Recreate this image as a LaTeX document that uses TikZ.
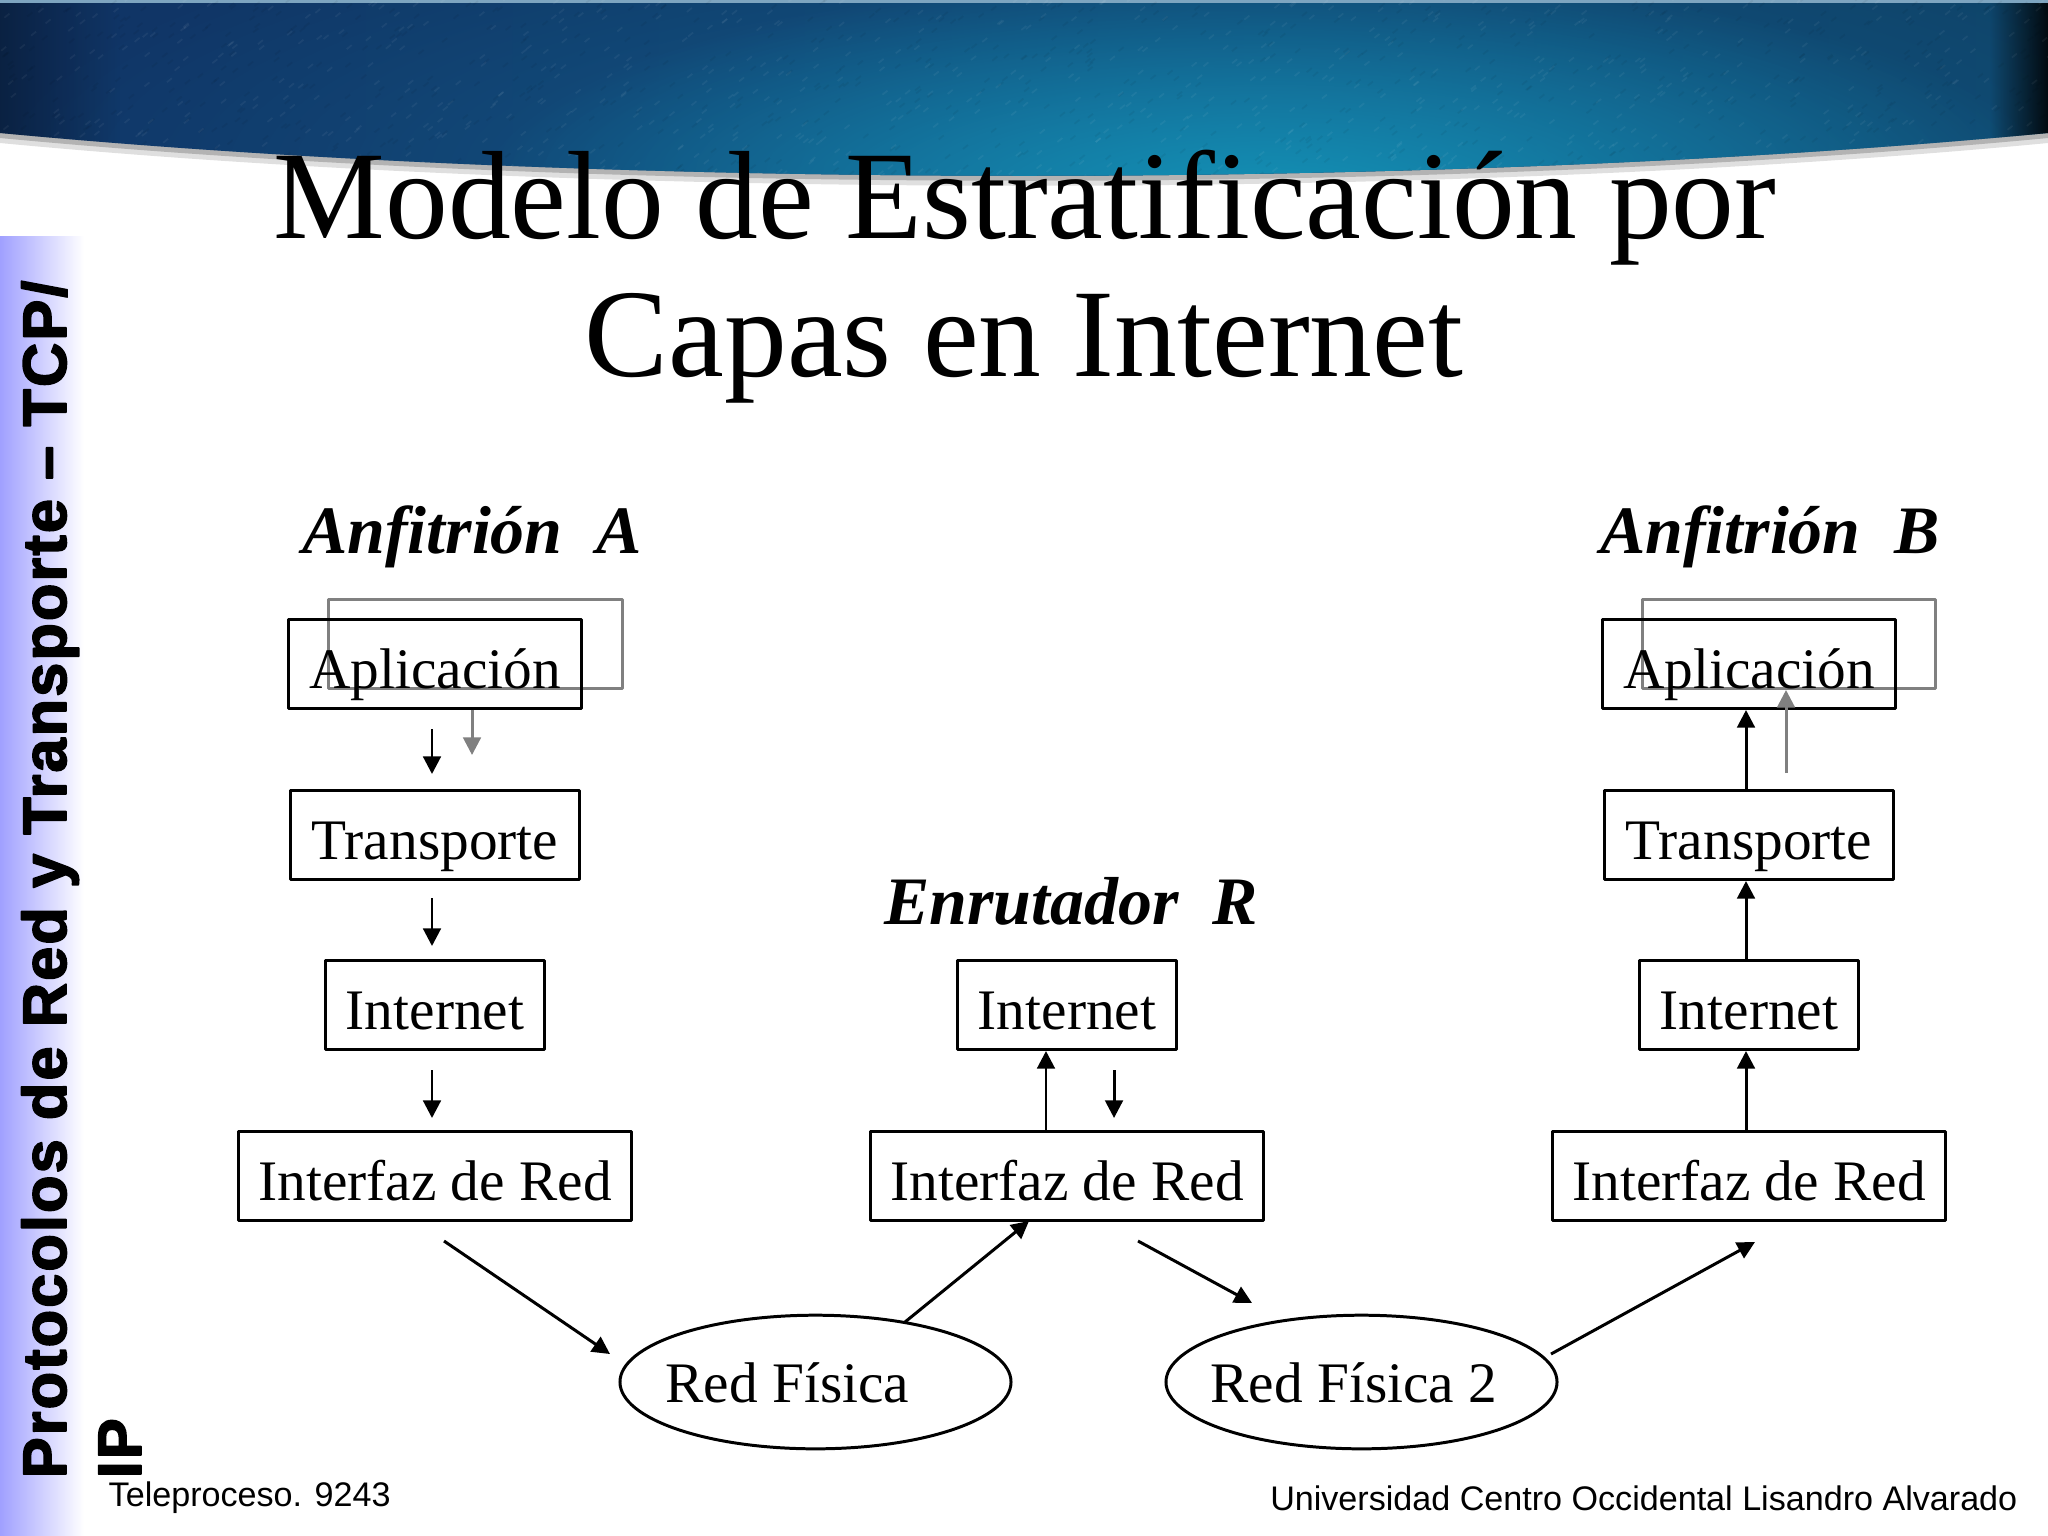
\documentclass[tikz,border=0pt]{standalone}
\usepackage{fontspec}
\setmainfont{Liberation Serif}[Ligatures=NoCommon]
\newfontfamily\lateral{Liberation Sans}[LetterSpace=3.2,BoldFeatures={FakeBold=2.5}]
\newfontfamily\pie{Liberation Sans}
\usetikzlibrary{arrows.meta,shapes.geometric,fadings}
\definecolor{azuloscuro}{RGB}{16,52,102}
\definecolor{azulderecho}{RGB}{14,66,102}
\definecolor{azulmedio}{RGB}{20,92,140}
\definecolor{turquesa}{RGB}{20,146,182}
\definecolor{lila}{RGB}{160,160,255}
\definecolor{gris}{RGB}{128,128,128}
\tikzfading[name=brillo,inner color=transparent!0,outer color=transparent!100]
\tikzfading[name=haciaderecha,left color=transparent!100,right color=transparent!0]
\tikzfading[name=haciaizquierda,left color=transparent!0,right color=transparent!100]
\tikzset{
	caja/.style={draw,line width=0.85pt,inner sep=0pt,minimum height=25.3pt,text height=16pt,text depth=1.8pt,font=\fontsize{16.3}{20}\selectfont},
	fantasma/.style={draw=gris,line width=0.85pt,inner sep=0pt,minimum width=83.4pt,minimum height=25.3pt},
	nube/.style={draw,line width=0.85pt,ellipse,inner sep=0pt,minimum width=111.2pt,minimum height=38pt},
	rotulo/.style={anchor=base,inner sep=0pt,font=\fontsize{16.3}{20}\selectfont},
	titulo/.style={anchor=base,inner sep=0pt,font=\fontsize{35.7}{40}\selectfont},
	cabecera/.style={anchor=base,inner sep=0pt,font=\fontsize{19.3}{23}\selectfont\bfseries\itshape},
	flecha/.style={-{Triangle[length=5pt,width=5pt]},line width=0.85pt},
	grisflecha/.style={flecha,draw=gris,-{Triangle[length=5pt,width=5pt,fill=gris]}}
}
\begin{document}
\begin{tikzpicture}[x=0.01cm,y=-0.01cm,line join=round]
	\def\borde{(0,133) .. controls (600,190) and (1450,190) .. (2048,133)}
	\useasboundingbox (0,0) rectangle (2048,1536);
	% banda superior
	\fill[gris!25] (0,0) -- (0,143) .. controls (600,200) and (1450,200) .. (2048,143) -- (2048,0) -- cycle;
	\fill[gris!60] (0,0) -- (0,138) .. controls (600,195) and (1450,195) .. (2048,138) -- (2048,0) -- cycle;
	\begin{scope}
		\clip (0,0) -- \borde -- (2048,0) -- cycle;
		\shade[left color=azuloscuro,right color=azulderecho] (0,0) rectangle (2048,200);
		\fill[azulmedio,path fading=brillo] (1180,170) ellipse (1200 and 300);
		\fill[turquesa,path fading=brillo] (1270,200) ellipse (800 and 230);
		\fill[black,opacity=0.35,path fading=haciaizquierda] (0,0) rectangle (120,200);
		\fill[black,opacity=0.85,path fading=haciaderecha] (1990,0) rectangle (2048,200);
		\fill[azulmedio!55!white] (0,0) rectangle (2048,3);
		% textura
		\pgfmathsetseed{9243}
		\foreach \i in {1,...,1500}{
			\pgfmathsetmacro{\px}{rnd*2048}
			\pgfmathsetmacro{\py}{rnd*185}
			\pgfmathsetmacro{\tono}{rnd<0.5 ? "white" : "black"}
			\draw[\tono,opacity=0.05,line width=0.5pt] (\px,\py) -- ++(5,-4);
		}
	\end{scope}
	% barra lateral
	\shade[left color=lila,right color=white] (0,236) rectangle (84,1536);
	\node[rotate=90,anchor=base west,inner sep=0pt] (lat1) at (66,1479) {\fontsize{17.5}{21}\selectfont\lateral\bfseries Protocolos de Red y Transporte – TCP/};
	\node[rotate=90,anchor=base west,inner sep=0pt] (lat2) at (141,1479) {\fontsize{17.5}{21}\selectfont\lateral\bfseries IP};
	\node[anchor=base west,inner sep=0pt] (pie1) at (108,1506) {\fontsize{9.7}{11}\selectfont\pie Teleproceso. 9243};
	\node[anchor=base east,inner sep=0pt] (pie2) at (2018,1510) {\fontsize{9.7}{11}\selectfont\pie Universidad Centro Occidental Lisandro Alvarado};
	% titulos
	\node[titulo] (tit1) at (1025,238) {Modelo de Estratificación por};
	\node[titulo] (tit2) at (1024,376) {Capas en Internet};
	\node[cabecera] (anfa) at (472,553) {Anfitrión\ \ A};
	\node[cabecera] (enr) at (1071,924) {Enrutador\ \ R};
	\node[cabecera] (anfb) at (1770,553) {Anfitrión\ \ B};
	% capas
	\node[fantasma] (fa) at (475.5,644) {};
	\node[fantasma] (fb) at (1789,644) {};
	\foreach \col/\x in {a/435,b/1749}{
		\node[caja,minimum width=83.4pt] (ap\col) at (\x,664) {Aplicación};
		\node[caja,minimum width=82.2pt] (tr\col) at (\x,835) {Transporte};
		\node[caja,minimum width=62.3pt] (in\col) at (\x,1005) {Internet};
		\node[caja,minimum width=111.8pt] (if\col) at (\x,1176) {Interfaz de Red};
	}
	\node[caja,minimum width=62.3pt] (inr) at (1067,1005) {Internet};
	\node[caja,minimum width=111.8pt] (ifr) at (1067,1176) {Interfaz de Red};
	\node[nube] (rf) at (815.5,1382) {};
	\node[nube] (rfd) at (1361.5,1382) {};
	\node[rotulo] (trf) at (787.5,1402) {Red Física};
	\node[rotulo] (trfd) at (1354,1402) {Red Física 2};
	% flechas
	\draw[flecha,shorten <=0.19cm,shorten >=0.15cm] ([xshift=-0.03cm]apa.south) -- ([xshift=-0.03cm]tra.north);
	\draw[flecha,shorten <=0.17cm,shorten >=0.13cm] ([xshift=-0.03cm]tra.south) -- ([xshift=-0.03cm]ina.north);
	\draw[flecha,shorten <=0.19cm,shorten >=0.12cm] ([xshift=-0.03cm]ina.south) -- ([xshift=-0.03cm]ifa.north);
	\draw[grisflecha,shorten >=0.34cm] ([xshift=0.37cm]apa.south) -- ([xshift=0.37cm]tra.north);
	\draw[flecha] ([xshift=-0.21cm]ifr.north) -- ([xshift=-0.21cm]inr.south);
	\draw[flecha,shorten <=0.19cm,shorten >=0.12cm] ([xshift=0.47cm]inr.south) -- ([xshift=0.47cm]ifr.north);
	\draw[flecha] ([xshift=-0.03cm]trb.north) -- ([xshift=-0.03cm]apb.south);
	\draw[flecha] ([xshift=-0.03cm]inb.north) -- ([xshift=-0.03cm]trb.south);
	\draw[flecha] ([xshift=-0.03cm]ifb.north) -- ([xshift=-0.03cm]inb.south);
	\coordinate (fg) at (1786,773);
	\draw[grisflecha] (fg) -- (fg |- fb.south);
	\coordinate (d1) at (444,1241);
	\coordinate (d2) at (610,1354);
	\coordinate (d3) at (905,1322);
	\coordinate (d4) at (1138,1241);
	\coordinate (d5) at (1252,1303);
	\coordinate (d6) at (1551,1354);
	\coordinate (d7) at (1755,1242);
	\coordinate (d8) at (1029,1221);
	\draw[flecha] (d1) -- (d2);
	\draw[flecha] (d3) -- (d8);
	\draw[flecha] (d4) -- (d5);
	\draw[flecha] (d6) -- (d7);
\end{tikzpicture}
\end{document}
